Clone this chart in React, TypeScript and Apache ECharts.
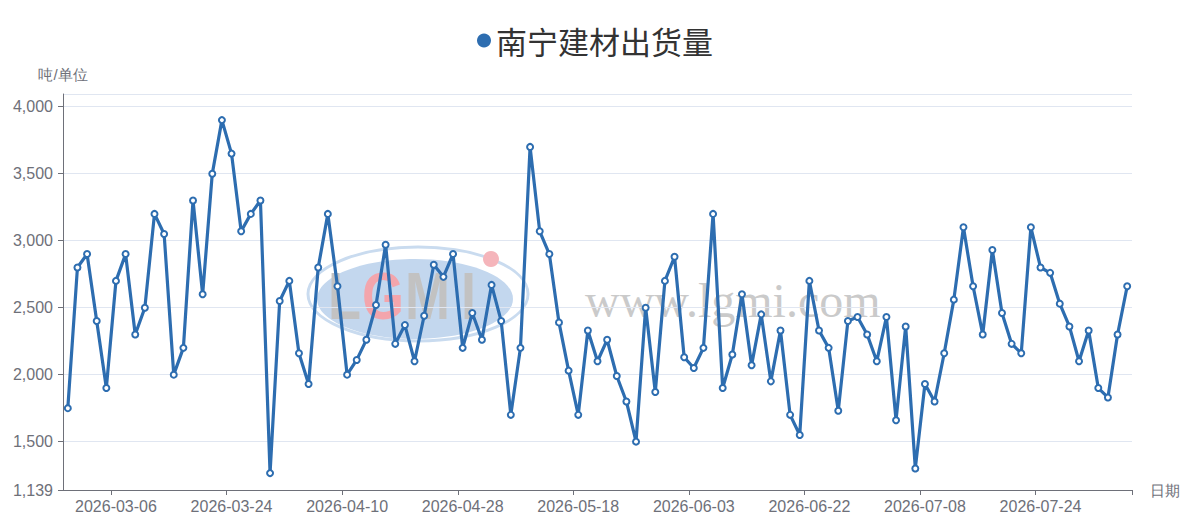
import React, { useEffect, useRef } from "react";
import * as echarts from "echarts";

const seriesName = "南宁建材出货量";
const yAxisName = "吨/单位";
const xAxisName = "日期";

const dates = [
  "2026-02-27", "2026-03-02", "2026-03-03", "2026-03-04", "2026-03-05", "2026-03-06",
  "2026-03-09", "2026-03-10", "2026-03-11", "2026-03-12", "2026-03-13",
  "2026-03-16", "2026-03-17", "2026-03-18", "2026-03-19", "2026-03-20",
  "2026-03-23", "2026-03-24", "2026-03-25", "2026-03-26", "2026-03-27",
  "2026-03-30", "2026-03-31", "2026-04-01", "2026-04-02", "2026-04-03",
  "2026-04-07", "2026-04-08", "2026-04-09", "2026-04-10",
  "2026-04-13", "2026-04-14", "2026-04-15", "2026-04-16", "2026-04-17",
  "2026-04-20", "2026-04-21", "2026-04-22", "2026-04-23", "2026-04-24",
  "2026-04-27", "2026-04-28", "2026-04-29", "2026-04-30",
  "2026-05-06", "2026-05-07", "2026-05-08", "2026-05-09",
  "2026-05-11", "2026-05-12", "2026-05-13", "2026-05-14", "2026-05-15",
  "2026-05-18", "2026-05-19", "2026-05-20", "2026-05-21", "2026-05-22",
  "2026-05-25", "2026-05-26", "2026-05-27", "2026-05-28", "2026-05-29",
  "2026-06-01", "2026-06-02", "2026-06-03", "2026-06-04", "2026-06-05",
  "2026-06-08", "2026-06-09", "2026-06-10", "2026-06-11", "2026-06-12",
  "2026-06-15", "2026-06-16", "2026-06-17", "2026-06-18",
  "2026-06-22", "2026-06-23", "2026-06-24", "2026-06-25", "2026-06-26",
  "2026-06-29", "2026-06-30", "2026-07-01", "2026-07-02", "2026-07-03",
  "2026-07-06", "2026-07-07", "2026-07-08", "2026-07-09", "2026-07-10",
  "2026-07-13", "2026-07-14", "2026-07-15", "2026-07-16", "2026-07-17",
  "2026-07-20", "2026-07-21", "2026-07-22", "2026-07-23", "2026-07-24",
  "2026-07-27", "2026-07-28", "2026-07-29", "2026-07-30", "2026-07-31",
  "2026-08-03", "2026-08-04", "2026-08-05", "2026-08-06",
];

const shipments = [
  1750, 2800, 2900, 2400, 1900, 2700, 2900, 2300, 2500, 3200,
  3050, 2000, 2200, 3300, 2600, 3500, 3900, 3650, 3070, 3200,
  3300, 1265, 2550, 2700, 2160, 1930, 2800, 3200, 2660, 2000,
  2110, 2260, 2520, 2970, 2230, 2370, 2100, 2440, 2820, 2730,
  2900, 2200, 2460, 2260, 2670, 2400, 1700, 2200, 3700, 3070,
  2900, 2390, 2030, 1700, 2330, 2100, 2260, 1990, 1800, 1500,
  2500, 1870, 2700, 2880, 2130, 2050, 2200, 3200, 1900, 2150,
  2600, 2070, 2450, 1950, 2330, 1700, 1550, 2700, 2330, 2200,
  1730, 2400, 2430, 2300, 2100, 2430, 1660, 2360, 1300, 1930,
  1800, 2160, 2560, 3100, 2660, 2300, 2930, 2460, 2230, 2160,
  3100, 2800, 2760, 2530, 2360, 2100, 2330, 1900, 1830, 2300,
  2660,
];

const lineColor = "#2d6db0";
const axisColor = "#6E7079";
const labelEvery = (idx: number) => idx % 12 === 5;

const logoLetter = (text: string, x: number, fill: string) => ({
  type: "text",
  z: 0,
  silent: true,
  x,
  y: 296,
  scaleY: 1.22,
  style: {
    text,
    font: "bold 54px Liberation Sans",
    fill,
    verticalAlign: "middle",
  },
});

export default function App() {
  const ref = useRef<HTMLDivElement>(null);
  useEffect(() => {
    if (!ref.current) return;
    const chart = echarts.init(ref.current, null, { renderer: "svg" });
    chart.setOption({
      animation: false,
      backgroundColor: "#ffffff",
      legend: {
        data: [seriesName],
        left: 472,
        top: 20,
        icon: "circle",
        itemWidth: 14,
        itemHeight: 14,
        textStyle: {
          fontSize: 31,
          color: "#333",
          fontFamily: "Noto Sans CJK SC",
        },
      },
      grid: { left: 63, right: 55, top: 94, bottom: 28, containLabel: false },
      graphic: [
        {
          type: "ellipse",
          z: 0,
          silent: true,
          shape: { cx: 418, cy: 294, rx: 110, ry: 47 },
          style: { fill: "none", stroke: "#c9dbef", lineWidth: 3 },
        },
        {
          type: "ellipse",
          z: 0,
          silent: true,
          shape: { cx: 415, cy: 299, rx: 98, ry: 40 },
          style: { fill: "#c3d7ee" },
        },
        logoLetter("L", 328, "#c2c2c2"),
        logoLetter("G", 362, "#f3a5ac"),
        logoLetter("M", 405, "#c2c2c2"),
        logoLetter("I", 461, "#c2c2c2"),
        {
          type: "circle",
          z: 0,
          silent: true,
          shape: { cx: 491, cy: 259, r: 8 },
          style: { fill: "#f5b5bb" },
        },
        {
          type: "text",
          z: 0,
          silent: true,
          x: 585,
          y: 300,
          style: {
            text: "www.lgmi.com",
            font: "48px Liberation Serif",
            fill: "#cacaca",
            verticalAlign: "middle",
          },
        },
      ],
      xAxis: {
        type: "category",
        data: dates,
        boundaryGap: true,
        name: xAxisName,
        nameGap: 18,
        nameTextStyle: { fontSize: 15, color: axisColor },
        axisLine: { show: true, lineStyle: { color: axisColor } },
        axisTick: { show: true, interval: labelEvery },
        axisLabel: {
          interval: labelEvery,
          fontSize: 16,
          color: axisColor,
          margin: 8,
        },
        splitLine: { show: false },
      },
      yAxis: {
        type: "value",
        name: yAxisName,
        nameGap: 12,
        nameTextStyle: { fontSize: 15, color: axisColor },
        min: (v: { min: number }) => Math.round(v.min * 0.9),
        max: (v: { max: number }) => Math.round(v.max * 1.05),
        axisLine: { show: true, lineStyle: { color: axisColor } },
        axisTick: { show: true },
        axisLabel: { fontSize: 16, color: axisColor, margin: 10, showMaxLabel: false },
        splitLine: { show: true, lineStyle: { color: "#E0E6F1" } },
      },
      series: [
        {
          name: seriesName,
          type: "line",
          data: shipments,
          symbol: "emptyCircle",
          symbolSize: 6,
          showAllSymbol: true,
          z: 3,
          lineStyle: { width: 3.2, color: lineColor },
          itemStyle: { color: lineColor, borderWidth: 2 },
        },
      ],
    });
    return () => chart.dispose();
  }, []);
  return (
    <div
      ref={ref}
      style={{ position: "fixed", left: 0, top: 0, width: 1187, height: 518 }}
    />
  );
}
